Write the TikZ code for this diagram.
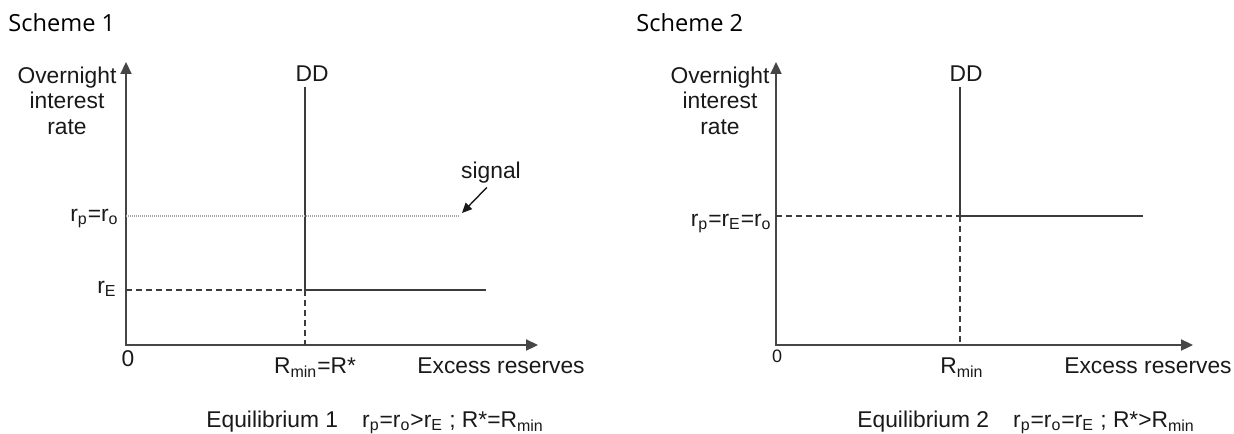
\documentclass[tikz,border=0pt]{standalone}
\usepackage{fontspec}
\setmainfont{Liberation Sans}
\newfontfamily\titlefont{Open Sans}
\usetikzlibrary{arrows.meta}
\definecolor{axisgrey}{RGB}{70,70,70}
\definecolor{linegrey}{RGB}{60,60,60}
\definecolor{dotgrey}{RGB}{165,165,165}

\begin{document}
\begin{tikzpicture}[x=0.5pt,y=-0.5pt,
    txt/.style={inner sep=0pt, font=\fontsize{11.4}{12.75}\selectfont, text=black!90},
    title/.style={inner sep=0pt, font=\titlefont\fontsize{11.8}{13}\selectfont, anchor=base west},
    axis/.style={draw=axisgrey, line width=1.1pt, {Triangle[length=6pt,width=5.5pt]}-{Triangle[length=6pt,width=5.5pt]}},
    curve/.style={draw=linegrey, line width=1pt},
    guide/.style={draw=linegrey, line width=0.8pt, dash pattern=on 3pt off 2pt},
    hint/.style={draw=dotgrey, line width=0.7pt, dash pattern=on 0.6pt off 0.4pt},
    pointer/.style={draw=black!90, line width=0.7pt, -{Triangle[length=5pt,width=4.5pt]}}]
    %% Background
    \useasboundingbox (0,0) rectangle (1234,433);

    %% Scheme 1
    \node[title] (title1) at (8,32) {Scheme 1};
    \coordinate (o1) at (126,345);
    \coordinate (ytip1) at (126,62);
    \coordinate (xtip1) at (538,345);
    \coordinate (dd1) at (305,87);
    \coordinate (eq1) at (305,290);
    \coordinate (rE1) at (126,290);
    \coordinate (R1) at (305,345);
    \coordinate (end1) at (486,290);
    \coordinate (ro1) at (126,216);
    \coordinate (sig1) at (460,216);
    \coordinate (sigtip1) at (462,213);
    \draw[axis] (ytip1) -- (o1) -- (xtip1);
    \draw[curve] (dd1) -- (eq1) -- (end1);
    \draw[guide] (rE1) -- (eq1);
    \draw[guide] (eq1) -- (R1);
    \draw[hint] (ro1) -- (sig1);
    \node[txt, anchor=base] (signal1) at (491,178) {signal};
    \draw[pointer, shorten <=3pt] (signal1.south) -- (sigtip1);
    \node[txt, align=center, anchor=base] (ylab1) at (67,134) {Overnight\\interest\\rate};
    \node[txt, anchor=base] (ddlab1) at (312,82) {DD};
    \node[txt, anchor=base east] (lro1) at (119,221) {r\textsubscript{p}=r\textsubscript{o}};
    \node[txt, anchor=base east] (lrE1) at (117,293) {r\textsubscript{E}};
    \node[txt, anchor=base] (zero1) at (128,366) {0};
    \node[txt, anchor=base] (lR1) at (315,373) {R\textsubscript{min}=R*};
    \node[txt, anchor=base west] (xlab1) at (417,373) {Excess reserves};
    \node[txt, anchor=base west] (eqlab1) at (206,427)
        {Equilibrium 1\hspace{12pt}r\textsubscript{p}=r\textsubscript{o}>r\textsubscript{E} ; R*=R\textsubscript{min}};

    %% Scheme 2
    \node[title] (title2) at (636,32) {Scheme 2};
    \coordinate (o2) at (776,345);
    \coordinate (ytip2) at (776,62);
    \coordinate (xtip2) at (1193,345);
    \coordinate (dd2) at (960,87);
    \coordinate (eq2) at (960,216);
    \coordinate (ro2) at (776,216);
    \coordinate (R2) at (960,345);
    \coordinate (end2) at (1143,216);
    \draw[axis] (ytip2) -- (o2) -- (xtip2);
    \draw[curve] (dd2) -- (eq2) -- (end2);
    \draw[guide] (ro2) -- (eq2);
    \draw[guide] (eq2) -- (R2);
    \node[txt, align=center, anchor=base] (ylab2) at (720,134) {Overnight\\interest\\rate};
    \node[txt, anchor=base] (ddlab2) at (966,82) {DD};
    \node[txt, anchor=base east] (lro2) at (772,226) {r\textsubscript{p}=r\textsubscript{E}=r\textsubscript{o}};
    \node[txt, anchor=base, font=\fontsize{9}{10}\selectfont] (zero2) at (777,362) {0};
    \node[txt, anchor=base] (lR2) at (962,373) {R\textsubscript{min}};
    \node[txt, anchor=base east] (xlab2) at (1232,373) {Excess reserves};
    \node[txt, anchor=base west] (eqlab2) at (857,427)
        {Equilibrium 2\hspace{12pt}r\textsubscript{p}=r\textsubscript{o}=r\textsubscript{E} ; R*>R\textsubscript{min}};
\end{tikzpicture}
\end{document}
